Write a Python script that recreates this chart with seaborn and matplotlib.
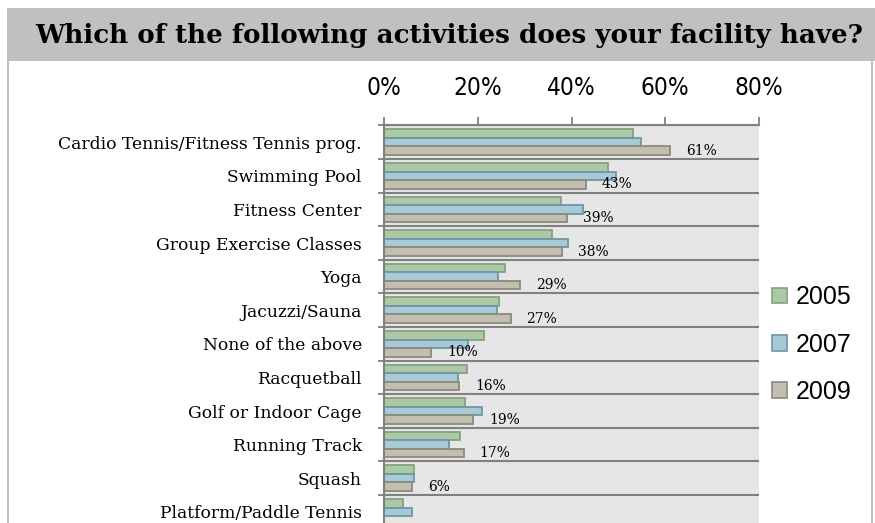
import numpy as np
import pandas as pd
import seaborn as sns
import matplotlib.pyplot as plt
from matplotlib.patches import Rectangle

# Survey results: share of facilities offering each activity (%)
activities = [
    "Cardio Tennis/Fitness Tennis prog.",
    "Swimming Pool",
    "Fitness Center",
    "Group Exercise Classes",
    "Yoga",
    "Jacuzzi/Sauna",
    "None of the above",
    "Racquetball",
    "Golf or Indoor Cage",
    "Running Track",
    "Squash",
    "Platform/Paddle Tennis",
]
years = ["2005", "2007", "2009"]
pct_2005 = [53.2, 47.7, 37.8, 35.8, 25.8, 24.6, 21.3, 17.6, 17.2, 16.3, 6.3, 4.0]
pct_2007 = [54.9, 49.5, 42.4, 39.2, 24.4, 24.2, 18.0, 15.8, 20.9, 13.8, 6.3, 6.0]
pct_2009 = [61, 43, 39, 38, 29, 27, 10, 16, 19, 17, 6, np.nan]
x_ticks = [0, 20, 40, 60, 80]

fills = {"2005": "#acc9a6", "2007": "#a7cbd6", "2009": "#c3bfae"}
edges = {"2005": "#86a082", "2007": "#6f95a5", "2009": "#8b897e"}

df = pd.DataFrame({
    "activity": activities * 3,
    "year": [y for y in years for _ in activities],
    "pct": pct_2005 + pct_2007 + pct_2009,
})

W, H = 875, 523
fig = plt.figure(figsize=(W / 100, H / 100), dpi=100)
fig.patch.set_facecolor("white")


def fx(px):
    return px / W


def fy(py):
    return 1 - py / H


# outer frame with title band
fig.patches.append(Rectangle((fx(7), fy(61)), fx(868) - fx(0), (61 - 8) / H,
                             transform=fig.transFigure, facecolor="#c0c0c0",
                             edgecolor="none", zorder=0))
fig.patches.append(Rectangle((fx(6.5), fy(523)), 2 / W, (523 - 8) / H,
                             transform=fig.transFigure, facecolor="#c0c0c0",
                             edgecolor="none", zorder=0))
fig.patches.append(Rectangle((fx(871), fy(523)), 2 / W, (523 - 8) / H,
                             transform=fig.transFigure, facecolor="#c0c0c0",
                             edgecolor="none", zorder=0))
fig.text(fx(449), fy(35), "Which of the following activities does your facility have?",
         ha="center", va="center", fontsize=18.8, fontweight="bold",
         family="DejaVu Serif", color="black")

top_px, bot_px, left_px, right_px = 125.4, 528.6, 384, 759
ax = fig.add_axes([fx(left_px), fy(bot_px), (right_px - left_px) / W, (bot_px - top_px) / H])

sns.barplot(data=df, y="activity", x="pct", hue="year", hue_order=years,
            order=activities, orient="h", palette=fills, width=0.76,
            saturation=1, ax=ax, legend=True)

for cont, yr in zip(ax.containers, years):
    for bar in cont:
        bar.set_edgecolor(edges[yr])
        bar.set_linewidth(1.3)

# value labels on the 2009 series
ax.bar_label(ax.containers[2], fmt="%d%%", padding=11.5, fontsize=10,
             family="DejaVu Serif", color="black")

ax.set_facecolor("#e6e6e6")
ax.set_xlim(0, 80)
ax.set_ylim(len(activities) - 0.5, -0.5)
ax.set_xlabel("")
ax.set_ylabel("")

ax.xaxis.tick_top()
ax.set_xticks(x_ticks)
ax.set_xticklabels([f"{t}%" for t in x_ticks], family="DejaVu Sans",
                   fontstretch="condensed", fontsize=17.5)
ax.tick_params(axis="x", which="major", direction="out", length=6, width=1.3,
               color="#808080", pad=12, top=True, bottom=False)

ax.set_yticks(range(len(activities)))
ax.set_yticklabels(activities, family="DejaVu Serif", fontsize=12.3)
ax.tick_params(axis="y", which="major", length=0, pad=16)
ax.set_yticks(np.arange(-0.5, len(activities), 1.0), minor=True)
ax.tick_params(axis="y", which="minor", direction="out", length=4, width=1.3,
               color="#808080", left=True)
ax.grid(False)
ax.grid(True, axis="y", which="minor", color="#808080", linewidth=1.5)
ax.set_axisbelow(True)

for side in ["right", "bottom"]:
    ax.spines[side].set_visible(False)
for side in ["left", "top"]:
    ax.spines[side].set_color("#808080")
    ax.spines[side].set_linewidth(1.5)

handles, labels = ax.get_legend_handles_labels()
for h, yr in zip(handles, years):
    h.set_edgecolor(edges[yr])
    h.set_linewidth(1.2)
ax.legend(handles, labels, loc="center left", bbox_to_anchor=(fx(772), fy(344.5)),
          bbox_transform=fig.transFigure, frameon=False,
          prop={"family": "Liberation Sans", "size": 18},
          handlelength=0.6, handleheight=0.6, handletextpad=0.35,
          labelspacing=0.93, borderaxespad=0, borderpad=0)

fig.savefig("out.png", dpi=100)
